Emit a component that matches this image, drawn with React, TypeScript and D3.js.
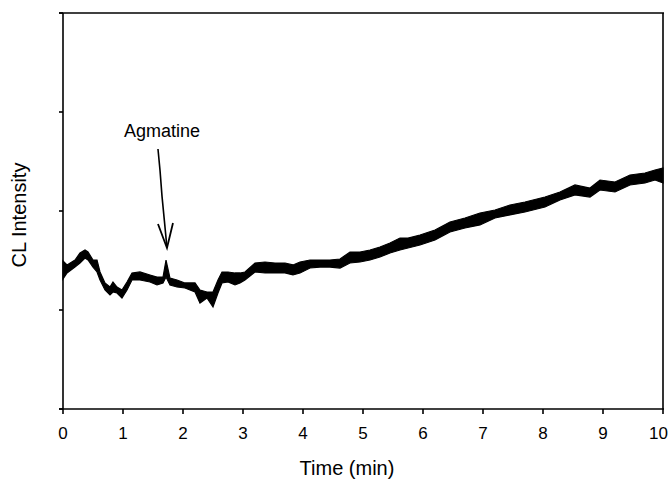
import React from "react";
import * as d3 from "d3";

// Time (min)
const time = [0, 0.067, 0.2, 0.283, 0.367, 0.417, 0.5, 0.567, 0.617, 0.7, 0.783, 0.833, 0.9, 0.983, 1.067, 1.15, 1.283, 1.45, 1.567, 1.667, 1.717, 1.783, 1.9, 2.033, 2.2, 2.283, 2.4, 2.5, 2.583, 2.65, 2.75, 2.867, 2.95, 3.033, 3.2, 3.367, 3.533, 3.7, 3.833, 3.95, 4.117, 4.283, 4.45, 4.617, 4.783, 4.95, 5.117, 5.283, 5.45, 5.617, 5.75, 5.95, 6.2, 6.45, 6.7, 6.95, 7.2, 7.45, 7.7, 7.833, 8.033, 8.283, 8.533, 8.783, 8.95, 9.2, 9.45, 9.7, 9.867, 10];
// Upper envelope of the noisy CL trace
const upper = [1.495, 1.455, 1.505, 1.576, 1.606, 1.586, 1.505, 1.505, 1.384, 1.273, 1.232, 1.283, 1.232, 1.202, 1.283, 1.374, 1.384, 1.354, 1.333, 1.333, 1.505, 1.323, 1.303, 1.273, 1.273, 1.202, 1.182, 1.182, 1.303, 1.384, 1.384, 1.374, 1.374, 1.384, 1.475, 1.485, 1.475, 1.475, 1.455, 1.485, 1.505, 1.505, 1.505, 1.515, 1.586, 1.586, 1.606, 1.636, 1.677, 1.727, 1.727, 1.758, 1.808, 1.889, 1.929, 1.98, 2.01, 2.061, 2.091, 2.111, 2.141, 2.192, 2.263, 2.232, 2.313, 2.293, 2.364, 2.384, 2.414, 2.434];
// Lower envelope of the noisy CL trace
const lower = [1.313, 1.374, 1.434, 1.475, 1.525, 1.505, 1.434, 1.384, 1.303, 1.202, 1.152, 1.182, 1.172, 1.121, 1.202, 1.303, 1.303, 1.283, 1.253, 1.273, 1.333, 1.253, 1.232, 1.222, 1.182, 1.071, 1.121, 1.03, 1.172, 1.273, 1.283, 1.253, 1.273, 1.303, 1.384, 1.374, 1.374, 1.374, 1.354, 1.374, 1.424, 1.434, 1.434, 1.424, 1.475, 1.485, 1.505, 1.535, 1.576, 1.606, 1.626, 1.657, 1.707, 1.788, 1.828, 1.859, 1.929, 1.96, 1.99, 2.01, 2.04, 2.111, 2.162, 2.141, 2.212, 2.192, 2.263, 2.283, 2.313, 2.283];

const xTicks = [0, 1, 2, 3, 4, 5, 6, 7, 8, 9, 10];
const yTicks = [0, 1, 2, 3, 4];

// Annotation (data units)
const arrowShaft: [number, number][] = [[1.583, 2.626], [1.617, 2.41], [1.65, 2.15], [1.69, 1.9], [1.733, 1.626]];
const arrowHead: [number, number][] = [[1.583, 1.869], [1.733, 1.626], [1.833, 1.879]];
const labelText = "Agmatine";
const labelPos: [number, number] = [1.65, 2.747];

const W = 669, H = 479;
const M = { left: 63, right: 6, top: 13, bottom: 70 };
const FONT = "'Liberation Sans', Arial, Helvetica, sans-serif";

export default function App() {
  const x = d3.scaleLinear().domain([0, 10]).range([M.left, W - M.right]);
  const y = d3.scaleLinear().domain([0, 4]).range([H - M.bottom, M.top]);
  const data = time.map((t, i) => ({ t, hi: upper[i], lo: lower[i] }));
  const area = d3.area<any>().x(d => x(d.t)).y0(d => y(d.lo)).y1(d => y(d.hi)).curve(d3.curveLinear);
  const line = d3.line<[number, number]>().x(d => x(d[0])).y(d => y(d[1]));
  const x0 = x(0), x1 = x(10), y0 = y(0), y1 = y(4);
  return (
    <svg width={W} height={H} style={{ position: "absolute", left: 0, top: 0, background: "#fff" }} fontFamily={FONT}>
      <path d={area(data) || ""} fill="#000" stroke="#000" strokeWidth={1.2} strokeLinejoin="miter" />
      <path d={line(arrowShaft) || ""} fill="none" stroke="#000" strokeWidth={1.6} />
      <path d={line(arrowHead) || ""} fill="none" stroke="#000" strokeWidth={1.8} />
      <text x={x(labelPos[0])} y={y(labelPos[1])} fontSize={18} textAnchor="middle">{labelText}</text>
      {/* frame */}
      <line x1={x0} x2={x0} y1={y1} y2={y0} stroke="#000" strokeWidth={1.6} />
      <line x1={x1} x2={x1} y1={y1} y2={y0} stroke="#000" strokeWidth={1.6} />
      <line x1={x0 - 4} x2={x1 + 1} y1={y1} y2={y1} stroke="#000" strokeWidth={1.6} />
      <line x1={x0 - 4} x2={x1 + 1} y1={y0} y2={y0} stroke="#000" strokeWidth={1.6} />
      {yTicks.map(v => (
        <line key={"yt" + v} x1={x0 - 4} x2={x0} y1={y(v)} y2={y(v)} stroke="#000" strokeWidth={1.6} />
      ))}
      {xTicks.map((v, i) => (
        <g key={"xt" + v}>
          <line x1={x(v)} x2={x(v)} y1={y0} y2={y0 + 5} stroke="#000" strokeWidth={1.6} />
          <text x={i === xTicks.length - 1 ? W - 1 : x(v)} y={y0 + 30} fontSize={17}
            textAnchor={i === xTicks.length - 1 ? "end" : "middle"}>{v}</text>
        </g>
      ))}
      <text x={347} y={475} fontSize={20} textAnchor="middle">Time (min)</text>
      <text transform={`translate(26,${(y0 + y1) / 2 + 4}) rotate(-90)`} fontSize={20} textAnchor="middle">CL Intensity</text>
    </svg>
  );
}
